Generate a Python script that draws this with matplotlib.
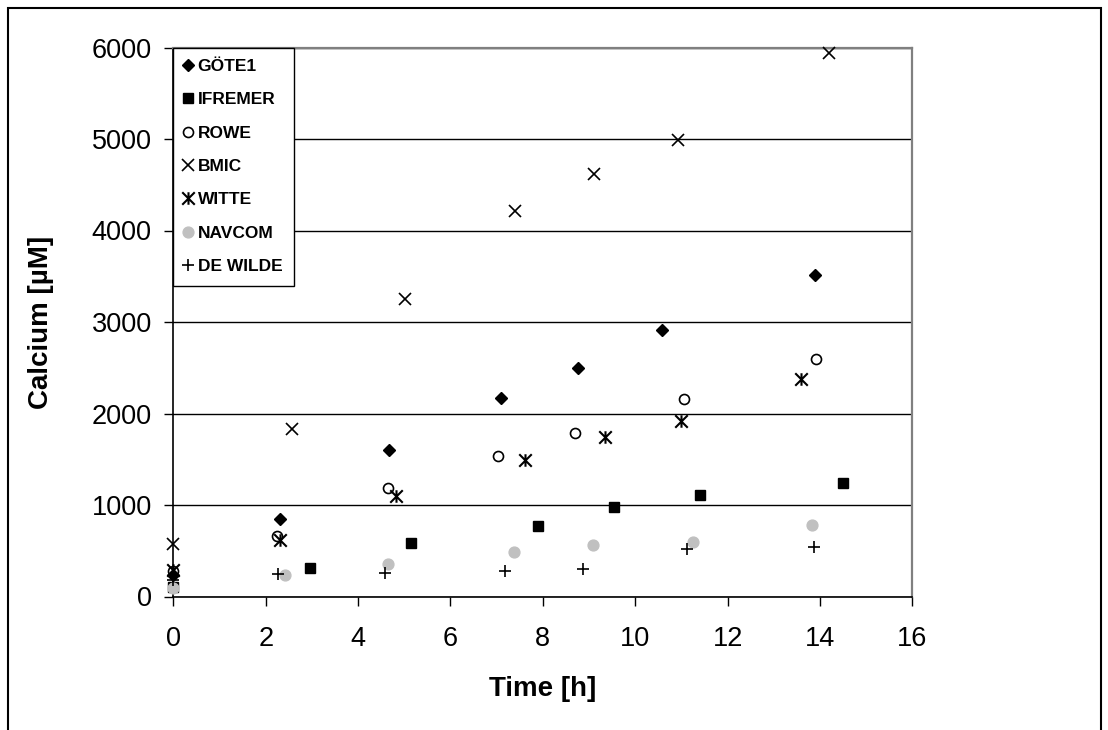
import matplotlib
matplotlib.use("Agg")
import matplotlib.pyplot as plt
from matplotlib.path import Path
from matplotlib.patches import Rectangle

# Calcium release per laboratory (time in hours, calcium in µM)
t_gote = [0, 2.32, 4.66, 7.10, 8.76, 10.57, 13.89]
ca_gote = [230, 847, 1600, 2170, 2500, 2910, 3514]

t_ifremer = [0, 2.95, 5.15, 7.89, 9.55, 11.40, 14.49]
ca_ifremer = [100, 308, 581, 774, 975, 1110, 1244]

t_rowe = [0, 2.25, 4.64, 7.03, 8.69, 11.05, 13.91]
ca_rowe = [280, 661, 1182, 1532, 1790, 2155, 2592]

t_bmic = [0, 2.58, 5.02, 7.40, 9.11, 10.92, 14.20]
ca_bmic = [570, 1831, 3255, 4210, 4617, 4990, 5943]

t_witte = [0, 2.31, 4.82, 7.61, 9.34, 11.00, 13.59]
ca_witte = [290, 617, 1098, 1492, 1740, 1918, 2380]

t_navcom = [0, 2.41, 4.65, 7.38, 9.08, 11.24, 13.83]
ca_navcom = [95, 235, 355, 483, 563, 600, 781]

t_dewilde = [0, 2.27, 4.59, 7.18, 8.87, 11.11, 13.87]
ca_dewilde = [180, 246, 260, 279, 300, 516, 538]

x_ticks = [0, 2, 4, 6, 8, 10, 12, 14, 16]
y_ticks = [0, 1000, 2000, 3000, 4000, 5000, 6000]

FONT = ["Liberation Sans", "DejaVu Sans"]
plt.rcParams["font.family"] = FONT

W, H = 1108, 730
fig = plt.figure(figsize=(W / 100, H / 100), dpi=100)
fig.patch.set_facecolor("white")

# outer chart frame
fig.patches.append(Rectangle((8 / W, -0.05), (1101 - 8) / W, 1.05 - 8 / H,
                             transform=fig.transFigure, fill=False,
                             edgecolor="black", linewidth=1.5))

left, right = 173.3 / W, 912.4 / W
bottom, top = 1 - 596.5 / H, 1 - 47.5 / H
ax = fig.add_axes([left, bottom, right - left, top - bottom])

# asterisk marker: an x with a vertical bar
star = Path([(-0.5, -0.5), (0.5, 0.5), (-0.5, 0.5), (0.5, -0.5), (0, -0.5), (0, 0.5)],
            [Path.MOVETO, Path.LINETO, Path.MOVETO, Path.LINETO, Path.MOVETO, Path.LINETO])

common = dict(linestyle="none", clip_on=False, zorder=5)
ax.plot(t_gote, ca_gote, marker="D", ms=6.0, mfc="black", mec="black", label="GÖTE1", **common)
ax.plot(t_ifremer, ca_ifremer, marker="s", ms=7.5, mfc="black", mec="black", label="IFREMER", **common)
ax.plot(t_rowe, ca_rowe, marker="o", ms=7.2, mfc="none", mec="black", mew=1.2, label="ROWE", **common)
ax.plot(t_bmic, ca_bmic, marker="x", ms=8.8, mec="black", mew=1.2, label="BMIC", **common)
ax.plot(t_witte, ca_witte, marker=star, ms=9.0, mfc="none", mec="black", mew=1.5, label="WITTE", **common)
ax.plot(t_navcom, ca_navcom, marker="o", ms=7.8, mfc="#c0c0c0", mec="#c0c0c0", label="NAVCOM", **common)
ax.plot(t_dewilde, ca_dewilde, marker="+", ms=8.5, mec="black", mew=1.2, label="DE WILDE", **common)

ax.set_xlim(0, 16)
ax.set_ylim(0, 6000)
ax.set_xticks(x_ticks)
ax.set_yticks(y_ticks)
ax.set_xticklabels([str(v) for v in x_ticks])
ax.set_yticklabels([str(v) for v in y_ticks])
ax.tick_params(axis="both", direction="out", length=6.5, width=1, color="black",
               labelsize=19.5)
ax.tick_params(axis="x", pad=15)
ax.tick_params(axis="y", pad=9)

ax.grid(axis="y", color="black", linewidth=1)
ax.set_axisbelow(True)

for side in ("left", "bottom"):
    ax.spines[side].set_color("black")
    ax.spines[side].set_linewidth(1.2)
for side in ("top", "right"):
    ax.spines[side].set_color("#808080")
    ax.spines[side].set_linewidth(1.6)

ax.set_xlabel("Time [h]", fontsize=20, fontweight="bold", labelpad=17)
ax.set_ylabel("Calcium [µM]", fontsize=20, fontweight="bold", labelpad=27)

leg = ax.legend(loc="upper left", bbox_to_anchor=(0, 1), borderaxespad=0,
                frameon=True, fancybox=False, framealpha=1, edgecolor="black",
                prop={"family": FONT, "weight": "bold", "size": 12.5},
                handlelength=0.4, handletextpad=0.35, labelspacing=1.05,
                borderpad=0.65, numpoints=1)
leg.get_frame().set_linewidth(1.0)
leg.set_zorder(10)

fig.savefig("out.png", dpi=100, facecolor="white")
